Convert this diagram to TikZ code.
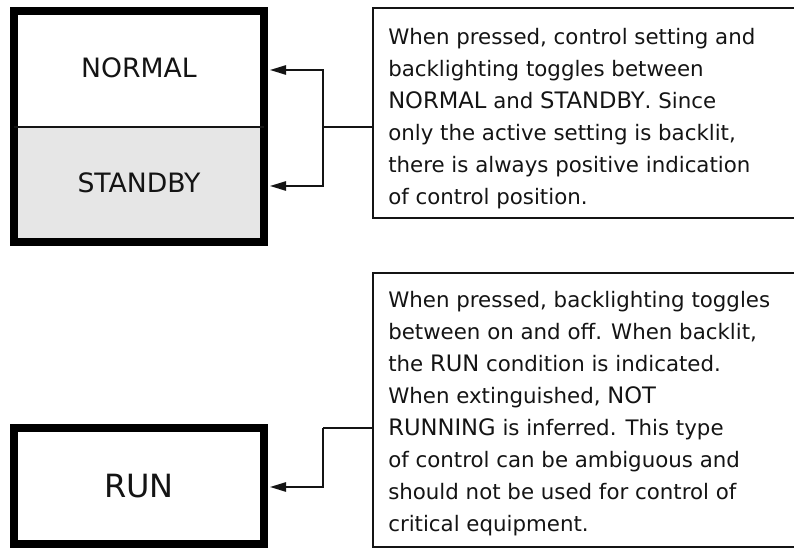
\documentclass[tikz,border=0pt]{standalone}
\usepackage{fontspec}
\setmainfont{DejaVu Sans}
\usetikzlibrary{arrows.meta,backgrounds}
\definecolor{linegray}{HTML}{141414}
\definecolor{fillgray}{HTML}{E6E6E6}
\newcommand{\capw}[1]{{\fontsize{17}{24}\selectfont #1}}
\begin{document}
\begin{tikzpicture}[x=0.75pt,y=-0.75pt,
  frame/.style={draw=black, line width=6pt, inner sep=0pt, outer sep=0pt, minimum width=187.5pt},
  label/.style={inner sep=0pt, font=\fontsize{20}{24}\selectfont, text=linegray},
  textbox/.style={draw=linegray, line width=1.2pt, inner sep=0pt, outer sep=0pt, anchor=north west, minimum width=322.5pt},
  body/.style={anchor=base west, inner sep=0pt, align=left, font=\fontsize{16}{24}\selectfont, text=linegray},
  conn/.style={draw=linegray, line width=1.2pt},
  arr/.style={conn, -{Triangle[length=12pt,width=7pt]}, shorten >=4.5pt}]
\useasboundingbox (0,0) rectangle (794,548);
\clip (0,0) rectangle (794,548);

% top selector switch
\node[frame, minimum height=172.9pt] (frame1) at (139,126.75) {};
\begin{scope}[on background layer]
  \fill[fillgray] (frame1.west) rectangle (frame1.south east);
\end{scope}
\draw[conn] (frame1.west) -- (frame1.east);
\node[label] (normal) at (139,68) {NORMAL};
\node[label] (standby) at (139,183) {STANDBY};

% top description (anchored at the baseline of its last line)
\node[textbox, minimum height=157.5pt] (tb1) at (373,8) {};
\node[body] (t1) at (388,205) {When pressed, control setting and\\
backlighting toggles between\\
\capw{NORMAL} and \capw{STANDBY}. Since\\
only the active setting is backlit,\\
there is always positive indication\\
of control position.};

\coordinate (j1) at (323,127);
\draw[conn] (tb1.west |- j1) -- (j1);
\draw[arr] (j1) |- (frame1.east |- 0,70);
\draw[arr] (j1) |- (frame1.east |- 0,186);

% bottom run switch
\node[frame, minimum height=87pt, font=\fontsize{24}{28}\selectfont, text=linegray] (frame2) at (139,486) {RUN};

% bottom description (anchored at the baseline of its last line)
\node[textbox, minimum height=205.5pt] (tb2) at (373,273) {};
\node[body] (t2) at (388,532) {When pressed, backlighting toggles\\
between on and off. When backlit,\\
the \capw{RUN} condition is indicated.\\
When extinguished, \capw{NOT}\\
\capw{RUNNING} is inferred. This type\\
of control can be ambiguous and\\
should not be used for control of\\
critical equipment.};

\coordinate (j2) at (323,428);
\draw[conn] (tb2.west |- j2) -- (j2);
\draw[arr] (j2) |- (frame2.east |- 0,487);
\end{tikzpicture}
\end{document}
